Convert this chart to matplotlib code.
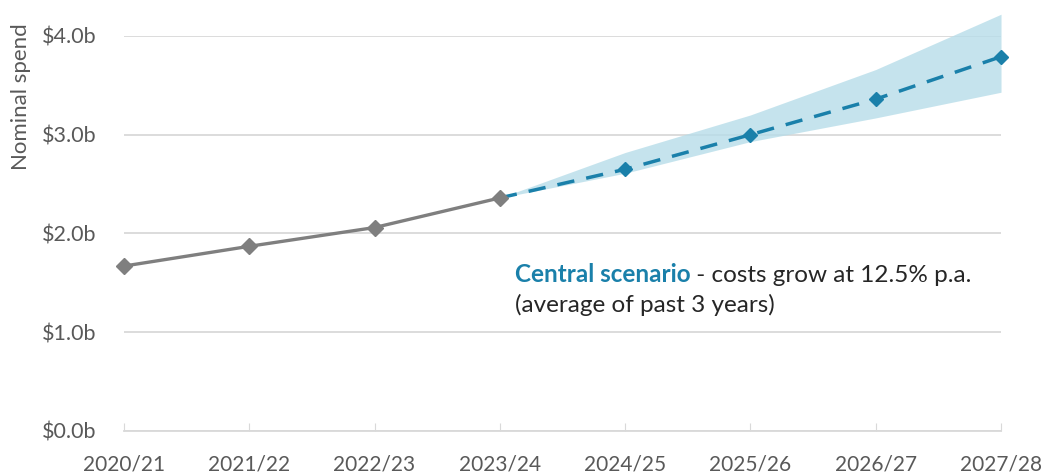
import matplotlib.pyplot as plt
import numpy as np

# Datos
years = ['2020/21', '2021/22', '2022/23', '2023/24',
         '2024/25', '2025/26', '2026/27', '2027/28']
actual = [1.67, 1.87, 2.06, 2.36]
central = [2.36, 2.65, 3.00, 3.36, 3.79]
band_low = [2.36, 2.61, 2.93, 3.17, 3.43]
band_high = [2.36, 2.82, 3.20, 3.66, 4.22]
yticks = [0, 1, 2, 3, 4]

grey = '#7f7f7f'
blue = '#1a80aa'
plt.rcParams['font.family'] = ['Lato', 'DejaVu Sans']

fig = plt.figure(figsize=(10.46, 4.73), dpi=100)
ax = fig.add_axes([0.1185, 0.0888, 0.8385, 0.8352])

x = np.arange(len(years))
x_act = x[:len(actual)]
x_fc = x[len(actual) - 1:]

ax.fill_between(x_fc, band_low, band_high, color='#b7dde9', alpha=0.8,
                linewidth=0, clip_on=False, zorder=1)
ax.plot(x_act, actual, color=grey, lw=2.4, marker='D', ms=8.5,
        clip_on=False, zorder=3)
ax.plot(x_fc, central, color=blue, lw=2.5, ls=(0, (5, 3.5)),
        clip_on=False, zorder=2)
ax.plot(x_fc[1:], central[1:], ls='none', color=blue, marker='D', ms=7.5,
        clip_on=False, zorder=3)

ax.set_xlim(x[0], x[-1])
ax.set_ylim(0, 4)
ax.set_yticks(yticks)
ax.set_yticklabels([f'${v:.1f}b' for v in yticks])
ax.set_xticks(x)
ax.set_xticklabels(years)
ax.grid(axis='y', color='#d9d9d9', lw=1.3, zorder=0)
ax.set_axisbelow(True)
for s in ['top', 'right', 'left']:
    ax.spines[s].set_visible(False)
ax.spines['bottom'].set_color('#d9d9d9')
ax.spines['bottom'].set_linewidth(1.3)
ax.tick_params(axis='y', length=0, pad=20, labelsize=15.5, labelcolor='#595959')
ax.tick_params(axis='x', direction='in', length=6, color='#d9d9d9',
               pad=17, labelsize=15, labelcolor='#595959')

fig.text(0.02, 0.795, 'Nominal spend', rotation=90, ha='center', va='center',
         fontsize=16, color='#595959')

# Anotación
t1 = ax.text(3.12, 1.51, 'Central scenario', color=blue, fontsize=17.5,
             fontweight='bold', va='baseline')
fig.canvas.draw()
bb = t1.get_window_extent()
x_end = ax.transData.inverted().transform((bb.x1, bb.y0))[0]
ax.text(x_end, 1.51, ' - costs grow at 12.5% p.a.', color='#262626',
        fontsize=17.5, va='baseline')
ax.text(3.12, 1.20, '(average of past 3 years)', color='#262626',
        fontsize=17.5, va='baseline')

fig.savefig('out.png', dpi=100)
